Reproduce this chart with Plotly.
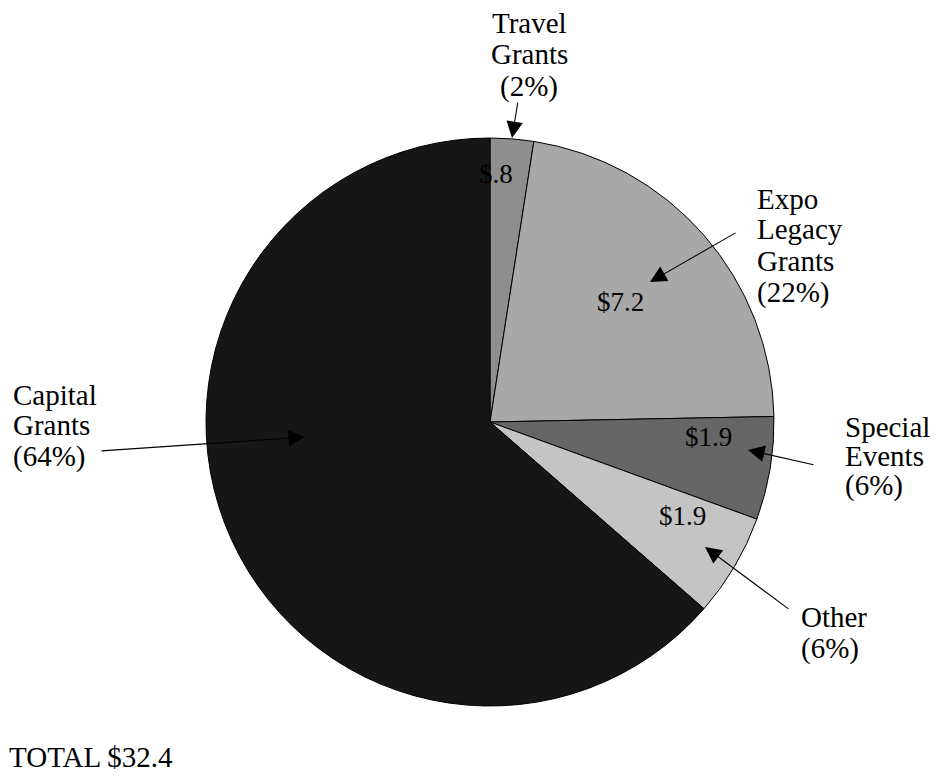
import math
import plotly.graph_objects as go

# Grant spending breakdown (millions of dollars), clockwise from 12 o'clock
categories = ["Travel Grants", "Expo Legacy Grants", "Special Events", "Other", "Capital Grants"]
values = [0.8, 7.2, 1.9, 1.9, 20.6]
value_labels = ["$.8", "$7.2", "$1.9", "$1.9", ""]
pct_labels = ["(2%)", "(22%)", "(6%)", "(6%)", "(64%)"]
total_label = "TOTAL $32.4"

W, H = 936, 776
FONT = "Liberation Serif"
FS = 29

# pie geometry in pixels
CX, CY, R = 490, 422, 284
slice_colors = ["#8e8e8e", "#a8a8a8", "#666666", "#c4c4c4", "#161616"]


def px(x):
    return x / W


def py(y):
    return 1 - y / H


fig = go.Figure(
    go.Pie(
        labels=categories,
        values=values,
        sort=False,
        direction="clockwise",
        rotation=0,
        textinfo="none",
        hoverinfo="label+value+percent",
        marker=dict(colors=slice_colors, line=dict(color="#000000", width=1)),
        domain=dict(x=[px(CX - R), px(CX + R)], y=[py(CY + R), py(CY - R)]),
        showlegend=False,
    )
)

annotations = []


def text_lines(lines, x, ys, anchor):
    for t, y in zip(lines, ys):
        annotations.append(dict(
            text=t, x=px(x), y=py(y), xref="paper", yref="paper",
            xanchor=anchor, yanchor="middle", showarrow=False,
            font=dict(family=FONT, size=FS, color="#000000"),
        ))


def arrow(tip, tail, head=True):
    annotations.append(dict(
        text="", x=px(tip[0]), y=py(tip[1]), xref="paper", yref="paper",
        ax=tail[0] - tip[0], ay=tail[1] - tip[1], showarrow=True,
        arrowhead=2 if head else 0, arrowsize=3, arrowwidth=1.1,
        arrowcolor="#000000",
    ))


# value labels inside slices, placed along each slice's mid-angle
radius_frac = [0.88, 0.63, 0.77, 0.75, 0.0]
angle_shift = [-3.0, -2.0, -6.0, -5.0, 0.0]
total = sum(values)
cum = 0.0
for v, lab, rf, sh in zip(values, value_labels, radius_frac, angle_shift):
    mid = (cum + v / 2) / total * 360 + sh
    cum += v
    if not lab:
        continue
    a = math.radians(mid)
    x = CX + rf * R * math.sin(a)
    y = CY - rf * R * math.cos(a)
    annotations.append(dict(
        text=lab, x=px(x), y=py(y + 2), xref="paper", yref="paper",
        xanchor="center", yanchor="middle", showarrow=False,
        font=dict(family=FONT, size=FS - 2, color="#000000"),
    ))

# outside category labels with pointers
text_lines(["Travel", "Grants", pct_labels[0]], 529, [23, 54, 86], "center")
arrow((512, 138), (518, 101))

text_lines(["Expo", "Legacy", "Grants", pct_labels[1]], 755, [199, 229, 261, 292], "left")
arrow((650, 282), (737, 232))

text_lines(["Special", "Events", pct_labels[2]], 843, [427, 456, 485], "left")
arrow((748, 450), (815, 465))

text_lines(["Other", pct_labels[3]], 799, [617, 648], "left")
arrow((705, 547), (790, 610))

text_lines(["Capital", "Grants", pct_labels[4]], 11, [395, 425, 456], "left")
arrow((305, 437), (100, 451))

text_lines([total_label], 7, [757], "left")

fig.update_layout(
    width=W, height=H,
    margin=dict(l=0, r=0, t=0, b=0),
    paper_bgcolor="#ffffff",
    plot_bgcolor="#ffffff",
    annotations=annotations,
)

fig.write_html("out.html")
